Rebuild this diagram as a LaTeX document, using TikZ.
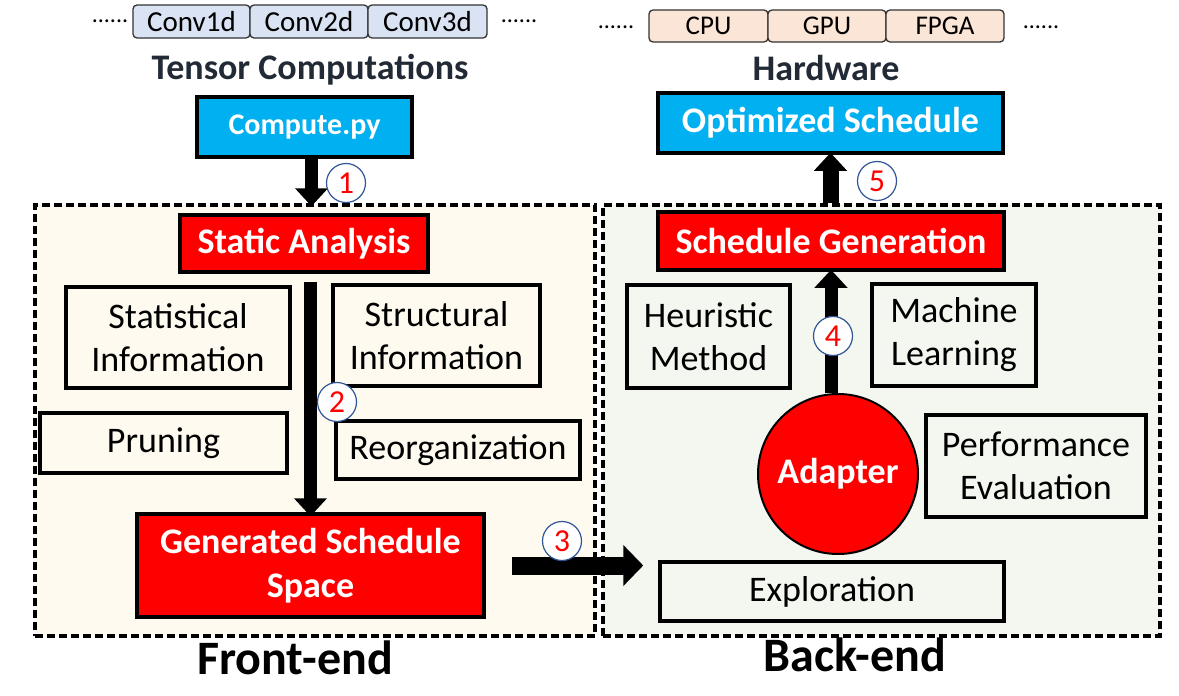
\documentclass[tikz,border=0pt]{standalone}
\usepackage{fontspec}
\setmainfont{Carlito}
\usetikzlibrary{arrows.meta}
\definecolor{skyblue}{HTML}{00B0F0}
\definecolor{convblue}{HTML}{DAE3F3}
\definecolor{hwpeach}{HTML}{FBE5D6}
\definecolor{frontfill}{HTML}{FEFAEF}
\definecolor{backfill}{HTML}{F4F7F0}
\definecolor{darktitle}{HTML}{222A35}
\definecolor{ringblue}{HTML}{2F5597}
\tikzstyle{plainbox}=[draw, line width=3.5pt, align=center, inner sep=0pt, font=\fontsize{36}{43}\selectfont]
\tikzstyle{redbox}=[plainbox, fill=red, text=white, font=\bfseries\fontsize{36}{44}\selectfont]
\tikzstyle{bluebox}=[plainbox, fill=skyblue, text=white, font=\bfseries\fontsize{36}{44}\selectfont]
\tikzstyle{convbox}=[draw=black!80, line width=1.3pt, rounded corners=4pt, fill=convblue, minimum height=33pt, inner sep=0pt, font=\fontsize{29}{29}\selectfont]
\tikzstyle{hwbox}=[convbox, fill=hwpeach, minimum height=32pt, font=\fontsize{27}{27}\selectfont]
\tikzstyle{dotrow}=[inner sep=0pt, font=\fontsize{24}{24}\selectfont]
\tikzstyle{title}=[inner sep=0pt, text=darktitle, font=\bfseries\fontsize{36}{36}\selectfont]
\tikzstyle{frame}=[draw, line width=3.5pt, dash pattern=on 8pt off 4pt, inner sep=0pt]
\tikzstyle{numcirc}=[circle, draw=ringblue, line width=1.2pt, fill=white, minimum size=39pt, inner sep=0pt, text=red, font=\fontsize{32}{32}\selectfont]
\tikzstyle{fatarrow}=[line width=13pt, -{Triangle[width=32pt,length=18pt]}]
\tikzstyle{endlabel}=[inner sep=0pt, font=\bfseries\fontsize{48}{48}\selectfont]

\begin{document}
\begin{tikzpicture}[x=1pt, y=-1pt]
\useasboundingbox (0,0) rectangle (1179,696);
\draw (110,22) node[dotrow, anchor=base] (dl1) {......};
\draw (191.5,21.5) node[convbox, minimum width=117pt] (conv1) {Conv1d};
\draw (309,21.5) node[convbox, minimum width=118pt] (conv2) {Conv2d};
\draw (427.5,21.5) node[convbox, minimum width=119pt] (conv3) {Conv3d};
\draw (519,22) node[dotrow, anchor=base] (dl2) {......};
\draw (616,28) node[dotrow, anchor=base] (dr1) {......};
\draw (708.5,26) node[hwbox, minimum width=119pt] (cpu) {CPU};
\draw (827,26) node[hwbox, minimum width=118pt] (gpu) {GPU};
\draw (945,26) node[hwbox, minimum width=118pt] (fpga) {FPGA};
\draw (1041,28) node[dotrow, anchor=base] (dr2) {......};
\draw (310,70) node[title] (tensor) {Tensor Computations};
\draw (826,68) node[title] (hardware) {Hardware};
\draw (304.5,127) node[bluebox, minimum width=215pt, minimum height=60pt, font=\bfseries\fontsize{30}{30}\selectfont] (compute) {Compute.py};
\draw (830.5,123) node[bluebox, minimum width=345pt, minimum height=60pt] (optimized) {Optimized Schedule};
\draw (315,420.5) node[frame, fill=frontfill, minimum width=560pt, minimum height=431pt] (front) {};
\draw (881.5,420.5) node[frame, fill=backfill, minimum width=557pt, minimum height=431pt] (back) {};
\draw (304,243.5) node[redbox, minimum width=248pt, minimum height=57pt] (static) {Static Analysis};
\draw (178,337.5) node[plainbox, minimum width=224pt, minimum height=101pt] (statinfo) {Statistical\\Information};
\draw (436.5,335.5) node[plainbox, minimum width=207pt, minimum height=101pt] (structinfo) {Structural\\Information};
\draw (163.5,443) node[plainbox, minimum width=247pt, minimum height=60pt] (pruning) {Pruning};
\draw (458,450) node[plainbox, minimum width=244pt, minimum height=58pt] (reorg) {Reorganization};
\draw (310.5,565.5) node[redbox, minimum width=347pt, minimum height=103pt] (space) {Generated Schedule\\Space};
\draw (831,241) node[redbox, minimum width=346pt, minimum height=58pt] (schedgen) {Schedule Generation};
\draw (708.5,336.5) node[plainbox, minimum width=163pt, minimum height=103pt] (heuristic) {Heuristic\\Method};
\draw (954,335) node[plainbox, minimum width=164pt, minimum height=102pt] (learning) {Machine\\Learning};
\draw (838,474) node[circle, draw, line width=2pt, fill=red, text=white, minimum size=160pt, inner sep=0pt, font=\bfseries\fontsize{36}{36}\selectfont] (adapter) {Adapter};
\draw (1036,466) node[plainbox, minimum width=220pt, minimum height=102pt] (perf) {Performance\\Evaluation};
\draw (832,591.5) node[plainbox, minimum width=344pt, minimum height=59pt] (explore) {Exploration};
\draw[fatarrow] ([xshift=7pt]compute.south) -- ([xshift=7pt,yshift=-3pt]compute.south |- front.north);
\draw[fatarrow] ([yshift=-8pt]static.south -| space.north) -- ([yshift=-4pt]space.north);
\draw[fatarrow, line width=18pt, -{Triangle[width=40pt,length=20pt]}] ([xshift=26pt]space.east) -- ([xshift=-15pt]explore.west |- space.east);
\draw[fatarrow] (adapter.north -| schedgen.south) -- ([yshift=2pt]schedgen.south);
\draw[fatarrow, line width=16pt] (optimized.south |- back.north) -- ([yshift=2pt]optimized.south);
\draw (346,183) node[numcirc] (n1) {1};
\draw (337,402) node[numcirc] (n2) {2};
\draw (562,541) node[numcirc] (n3) {3};
\draw (833,336) node[numcirc] (n4) {4};
\draw (877,181) node[numcirc] (n5) {5};
\draw (295,658) node[endlabel] (frontend) {Front-end};
\draw (855,655) node[endlabel] (backend) {Back-end};
\end{tikzpicture}
\end{document}
